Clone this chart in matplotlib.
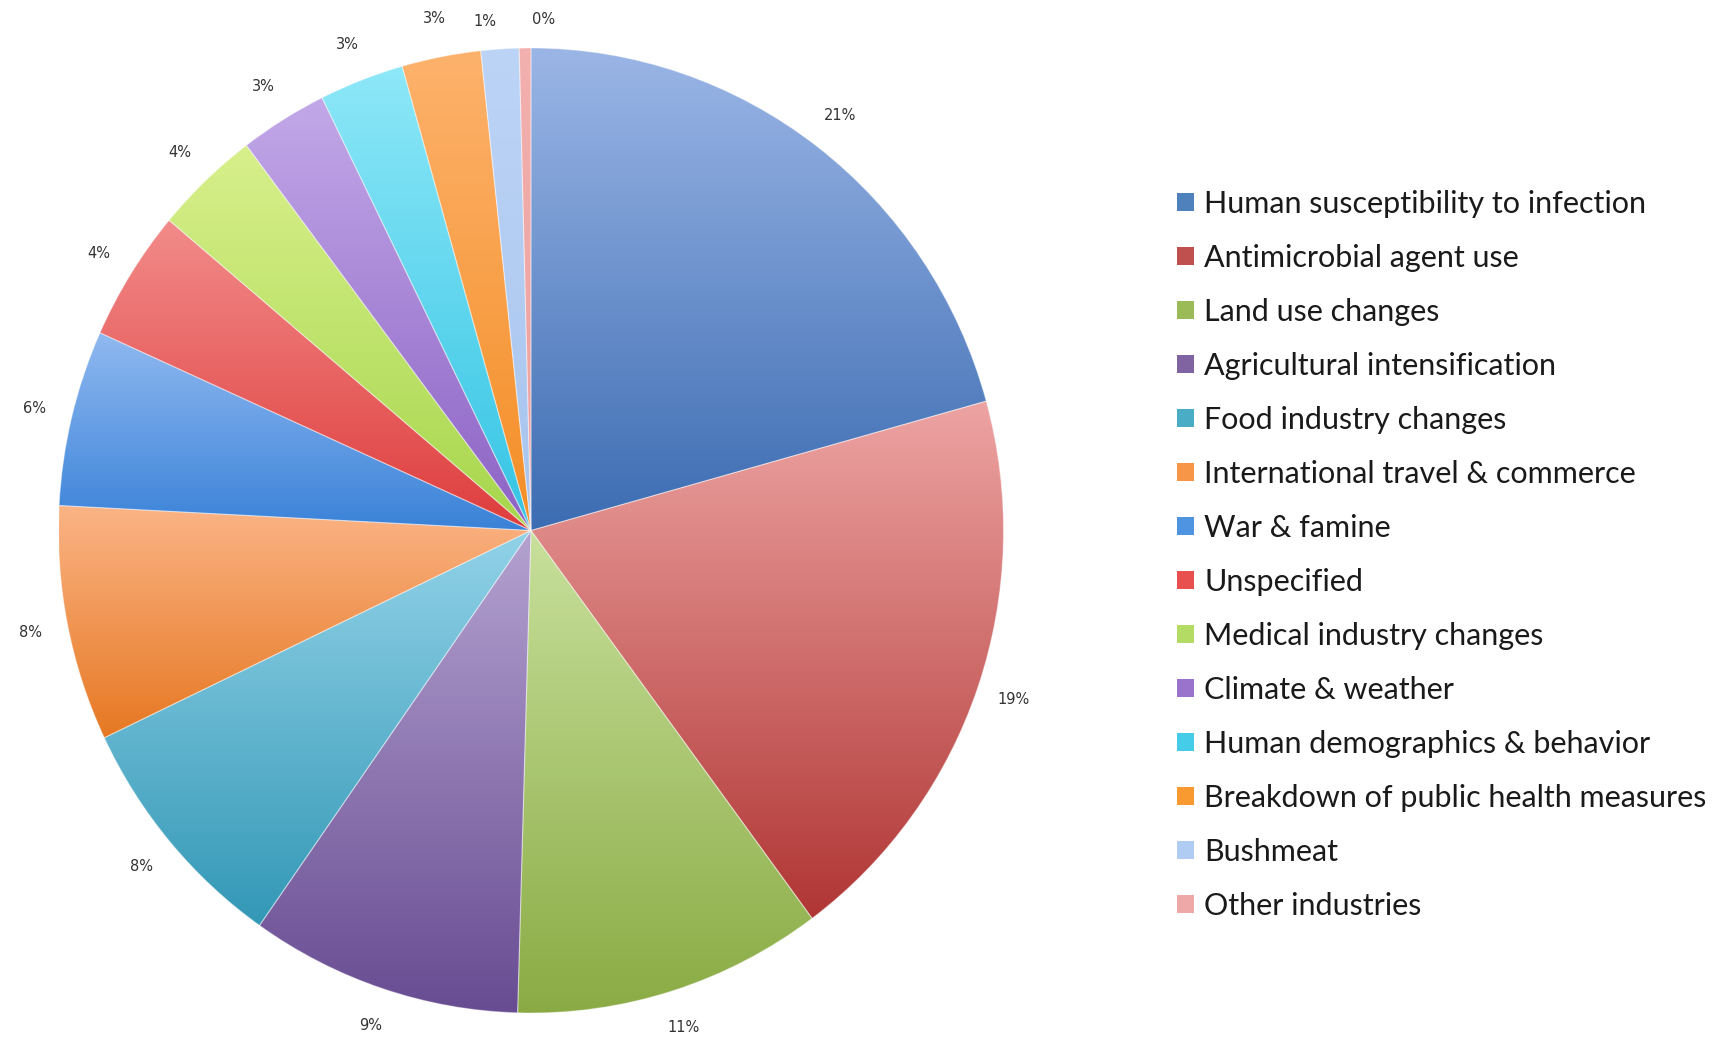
import numpy as np
import matplotlib
matplotlib.use("Agg")
import matplotlib.pyplot as plt
from matplotlib.colors import to_rgb
from matplotlib.patches import Patch

# Drivers of emergence, share of pathogens (%)
drivers = [
    "Human susceptibility to infection",
    "Antimicrobial agent use",
    "Land use changes",
    "Agricultural intensification",
    "Food industry changes",
    "International travel & commerce",
    "War & famine",
    "Unspecified",
    "Medical industry changes",
    "Climate & weather",
    "Human demographics & behavior",
    "Breakdown of public health measures",
    "Bushmeat",
    "Other industries",
]
shares = [20.7, 19.2, 10.6, 9.3, 8.2, 7.9, 5.9, 4.4, 3.6, 3.0, 2.9, 2.7, 1.3, 0.4]

# light (top) and dark (bottom) shade of each slice
top_colors = ["#9bb6e6", "#eda4a3", "#c8e09c", "#b4a2d0", "#92d2e8", "#fbb486", "#90b9f0",
              "#f28c8a", "#d8f08c", "#c2a8e8", "#8ee8f8", "#fdb26c", "#bcd4f6", "#f2b0ae"]
bottom_colors = ["#3c6cb2", "#b03634", "#8aab44", "#684c92", "#3398b6", "#e67822", "#3a82d8",
                 "#de3c3c", "#a6d64c", "#8c62c4", "#34c4e4", "#f48e26", "#a8c4ee", "#eca0a0"]
mid_colors = ["#4f81bd", "#c0504d", "#9bbb59", "#8064a2", "#4bacc6", "#f79646", "#4f94e0",
              "#e85050", "#b4dc64", "#9a74cc", "#44cce8", "#f89a30", "#b0ccf2", "#eea8a8"]

fig = plt.figure(figsize=(17.33, 10.43), dpi=100)
ax = fig.add_axes([0, 0, 1, 1])

wedges, texts, pcts = ax.pie(
    shares, startangle=90, counterclock=False, radius=1.0,
    autopct="%1.0f%%", pctdistance=1.08,
    textprops=dict(fontsize=10.5, color="#333333",
                   family=["Liberation Sans Narrow", "DejaVu Sans Condensed", "DejaVu Sans"]),
    wedgeprops=dict(facecolor="none", edgecolor=(1, 1, 1, 0.35), linewidth=0.8),
)

# vertical gradient inside every slice
for w, c_top, c_bot in zip(wedges, top_colors, bottom_colors):
    t = np.radians(np.linspace(w.theta1, w.theta2, 200))
    xs = np.concatenate([[0], np.cos(t)])
    ys = np.concatenate([[0], np.sin(t)])
    grad = np.linspace(0, 1, 256)[:, None]
    a, b = np.array(to_rgb(c_top)), np.array(to_rgb(c_bot))
    img = (a[None, None, :] * (1 - grad[..., None]) + b[None, None, :] * grad[..., None])
    im = ax.imshow(img, extent=(xs.min(), xs.max(), ys.min(), ys.max()),
                   origin="upper", aspect="auto", interpolation="bilinear", zorder=0)
    im.set_clip_path(w)

# the two thinnest slices at the top: spread their labels apart
for txt, shift in ((pcts[-2], 1.5), (pcts[-1], -2.2)):
    x, y = txt.get_position()
    ang = np.arctan2(y, x) + np.radians(shift)
    txt.set_position((1.06 * np.cos(ang), 1.06 * np.sin(ang)))

# pie slightly taller than wide; centre at (531, 530) px from the top left
sx, sy = 472.5, 482.5
ax.set_aspect("auto")
ax.set_xlim(-531 / sx, (1733 - 531) / sx)
ax.set_ylim(-(1043 - 530.5) / sy, 530.5 / sy)
ax.axis("off")

handles = [Patch(facecolor=c, edgecolor="none") for c in mid_colors]
leg = fig.legend(handles, drivers, loc="upper left", bbox_to_anchor=(1177 / 1733, 1 - 190 / 1043),
                 frameon=False, handlelength=0.55, handleheight=0.55,
                 handletextpad=0.35, labelspacing=0.85, borderaxespad=0, borderpad=0,
                 prop=dict(family="Lato", size=22))
for txt in leg.get_texts():
    txt.set_color("#1a1a1a")

fig.savefig("out.png", dpi=100, facecolor="white")
